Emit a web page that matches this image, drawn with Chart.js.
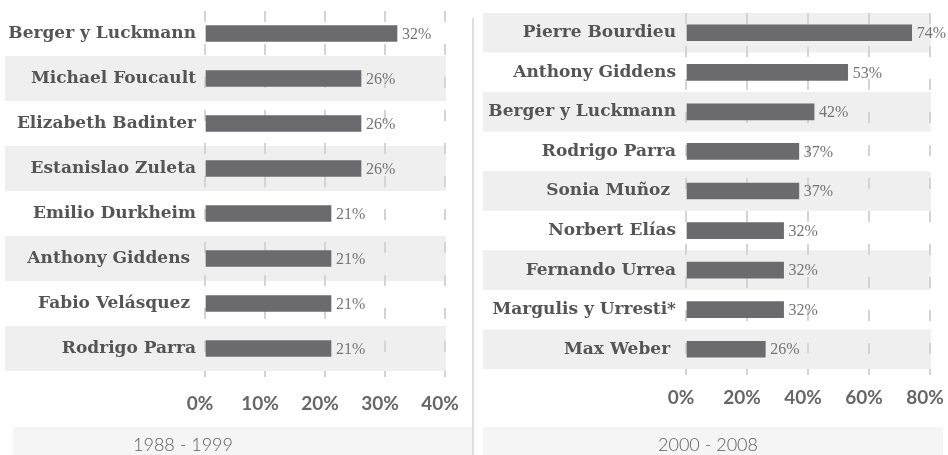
<!DOCTYPE html>
<html>
<head>
<meta charset="utf-8">
<script src="https://cdn.jsdelivr.net/npm/chart.js@4.4.1/dist/chart.umd.min.js"></script>
<style>
	html, body { margin: 0; padding: 0; background: #fff; }
	#wrap { position: relative; width: 948px; height: 455px; overflow: hidden; }
	#leftBox { position: absolute; left: 0; top: 0; width: 474px; height: 427px; }
	#rightBox { position: absolute; left: 474px; top: 0; width: 480px; height: 427px; }
	.divider { position: absolute; left: 472px; top: 18px; width: 2px; height: 437px; background: #dedede; }
	.period { position: absolute; top: 427px; height: 28px; background: #f5f5f5; color: #5e5e5e;
		font-family: Lato, sans-serif; font-weight: 300; font-size: 18px; line-height: 28px; }
	.period span { position: absolute; top: 3px; }
</style>
</head>
<body>
<div id="wrap">
	<div id="leftBox"><canvas id="leftChart"></canvas></div>
	<div id="rightBox"><canvas id="rightChart"></canvas></div>
	<div class="divider"></div>
	<div class="period" style="left:13px;width:459px;"><span style="left:120px;">1988 - 1999</span></div>
	<div class="period" style="left:483px;width:460px;"><span style="left:175px;">2000 - 2008</span></div>
</div>
<script>
// 1988 - 1999
const leftLabels = ["Berger y Luckmann", "Michael Foucault", "Elizabeth Badinter", "Estanislao Zuleta",
	"Emilio Durkheim", "Anthony Giddens ", "Fabio Velásquez ", "Rodrigo Parra"];
const leftValues = [32, 26, 26, 26, 21, 21, 21, 21];
const leftTicks = [0, 10, 20, 30, 40];

// 2000 - 2008
const rightLabels = ["Pierre Bourdieu", "Anthony Giddens", "Berger y Luckmann", "Rodrigo Parra",
	"Sonia Muñoz ", "Norbert Elías", "Fernando Urrea", "Margulis y Urresti*", "Max Weber "];
const rightValues = [74, 53, 42, 37, 37, 32, 32, 32, 26];
const rightTicks = [0, 20, 40, 60, 80];

const barColor = "#6b6b6e";
const gridColor = "#d4d4d4";

// striped rows behind the bars
const rowBands = {
	id: "rowBands",
	beforeDraw(chart, args, opts) {
		const ctx = chart.ctx;
		const y = chart.scales.y;
		const n = chart.data.labels.length;
		const step = (chart.chartArea.bottom - chart.chartArea.top) / n;
		ctx.save();
		ctx.fillStyle = "#efefef";
		for (let i = 0; i < n; i++) {
			if (i % 2 !== opts.start) continue;
			const c = y.getPixelForValue(i);
			ctx.fillRect(opts.left, c - step / 2, chart.chartArea.right + opts.right - opts.left, step);
		}
		ctx.restore();
	},
};

// percentage after each bar
const valueLabels = {
	id: "valueLabels",
	afterDatasetsDraw(chart) {
		const ctx = chart.ctx;
		const meta = chart.getDatasetMeta(0);
		ctx.save();
		ctx.font = "16px 'Liberation Serif', serif";
		ctx.fillStyle = "#747474";
		ctx.textBaseline = "middle";
		meta.data.forEach((bar, i) => {
			ctx.fillText(chart.data.datasets[0].data[i] + "%", bar.x + 5, bar.y + 1);
		});
		ctx.restore();
	},
};

function makeChart(el, labels, values, ticks, o) {
	return new Chart(el, {
		type: "bar",
		data: {
			labels: labels,
			datasets: [
				{
					data: values,
					backgroundColor: barColor,
					barThickness: 16,
				},
			],
		},
		options: {
			indexAxis: "y",
			responsive: true,
			maintainAspectRatio: false,
			animation: false,
			layout: { padding: { top: o.top, right: o.right, left: 0, bottom: 0 } },
			plugins: {
				legend: { display: false },
				tooltip: { enabled: false },
				rowBands: { start: o.bandStart, left: o.bandLeft, right: 1 },
			},
			scales: {
				x: {
					min: ticks[0],
					max: ticks[ticks.length - 1],
					afterBuildTicks: (axis) => {
						axis.ticks = ticks.map((v) => ({ value: v }));
					},
					afterFit: (axis) => {
						axis.height = o.xHeight;
						axis.paddingLeft = 0;
						axis.paddingRight = 0;
					},
					grid: {
						color: gridColor,
						lineWidth: 2,
						tickLength: 6,
						tickColor: gridColor,
						tickWidth: 2,
					},
					border: { display: false, dash: [11, 22] },
					ticks: {
						padding: o.tickPad,
						labelOffset: -5,
						color: "#666",
						font: { family: "Lato", weight: "bold", size: 19 },
						callback: (v) => v + "%",
					},
				},
				y: {
					afterFit: (axis) => {
						axis.width = o.yWidth;
						axis.paddingTop = 0;
						axis.paddingBottom = 0;
					},
					grid: { display: false, drawTicks: false },
					border: { display: false },
					ticks: {
						padding: o.labelPad,
						color: "#555",
						font: { family: "DejaVu Serif", weight: "bold", size: 17 },
					},
				},
			},
		},
		plugins: [rowBands, valueLabels],
	});
}

var leftChart = makeChart(document.getElementById("leftChart"), leftLabels, leftValues, leftTicks, {
	top: 11, right: 29, xHeight: 56, yWidth: 205, tickPad: 15, labelPad: 9, bandStart: 1, bandLeft: 5,
});

var rightChart = makeChart(document.getElementById("rightChart"), rightLabels, rightValues, rightTicks, {
	top: 13, right: 24, xHeight: 58, yWidth: 212, tickPad: 11, labelPad: 10, bandStart: 0, bandLeft: 9,
});
</script>
</body>
</html>
